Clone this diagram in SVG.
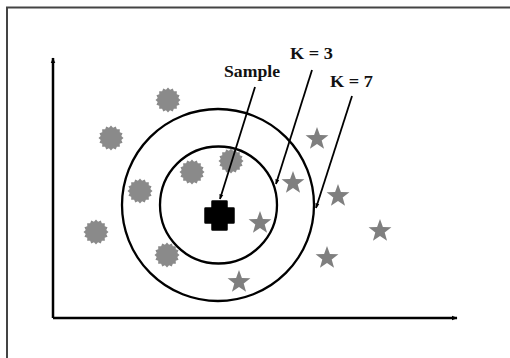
<svg xmlns="http://www.w3.org/2000/svg" width="510" height="358" viewBox="0 0 510 358">
<style>
.lbl{font-family:"Liberation Serif","Times New Roman",serif;font-weight:bold;font-size:17px;fill:#111}
.ring{fill:none;stroke:#000;stroke-width:2.3}
.ax{stroke:#000;stroke-width:2.5;fill:none}
.con{stroke:#000;stroke-width:1.8;fill:none}
.burst{fill:#8a8a8a}
.star{fill:#7f7f7f}
</style>
<defs>
<marker id="ah" viewBox="0 0 10 10" refX="9" refY="5" markerWidth="5" markerHeight="5" orient="auto" markerUnits="userSpaceOnUse">
<path d="M0,1 L10,5 L0,9 z" fill="#000"/>
</marker>
<marker id="axh" viewBox="0 0 10 10" refX="9" refY="5" markerWidth="6" markerHeight="6" orient="auto" markerUnits="userSpaceOnUse">
<path d="M0,1 L10,5 L0,9 z" fill="#000"/>
</marker>
<polygon id="b" points="12.5,0 10.3,2.05 11.55,4.78 8.73,5.83 8.84,8.84 5.83,8.73 4.78,11.55 2.05,10.3 0,12.5 -2.05,10.3 -4.78,11.55 -5.83,8.73 -8.84,8.84 -8.73,5.83 -11.55,4.78 -10.3,2.05 -12.5,0 -10.3,-2.05 -11.55,-4.78 -8.73,-5.83 -8.84,-8.84 -5.83,-8.73 -4.78,-11.55 -2.05,-10.3 0,-12.5 2.05,-10.3 4.78,-11.55 5.83,-8.73 8.84,-8.84 8.73,-5.83 11.55,-4.78 10.3,-2.05"/>
<polygon id="s" points="0,-12 2.9,-4 11.41,-3.71 4.7,1.55 7.05,9.71 0,4.9 -7.05,9.71 -4.7,1.55 -11.41,-3.71 -2.9,-4"/>
</defs>
<rect width="510" height="358" fill="#fff"/>
<path d="M7,358 V7.5 H510" fill="none" stroke="#444" stroke-width="2"/>
<g id="axes">
<path class="ax" d="M53,318 V58" marker-end="url(#axh)"/>
<path class="ax" d="M53,318 H457" marker-end="url(#axh)"/>
</g>
<g id="rings">
<circle class="ring" cx="218" cy="205" r="96"/>
<circle class="ring" cx="218.5" cy="205" r="58.5"/>
</g>
<g id="class-a">
<use href="#b" class="burst" x="168" y="100"/>
<use href="#b" class="burst" x="111" y="138"/>
<use href="#b" class="burst" x="192" y="172"/>
<use href="#b" class="burst" x="231" y="161"/>
<use href="#b" class="burst" x="140" y="191"/>
<use href="#b" class="burst" x="96" y="232"/>
<use href="#b" class="burst" x="167" y="255"/>
</g>
<g id="class-b">
<use href="#s" class="star" x="317" y="139"/>
<use href="#s" class="star" x="293" y="183"/>
<use href="#s" class="star" x="338" y="196"/>
<use href="#s" class="star" x="260" y="223"/>
<use href="#s" class="star" x="380" y="231"/>
<use href="#s" class="star" x="327" y="258"/>
<use href="#s" class="star" x="239" y="282"/>
</g>
<g id="sample">
<path d="M212.5,201.5 h14 v7 h7 v14 h-7 v7 h-14 v-7 h-7 v-14 h7 z" fill="#000" stroke="#000" stroke-width="2.5" stroke-linejoin="round"/>
</g>
<g id="connectors">
<line class="con" x1="255" y1="87" x2="220" y2="199" marker-end="url(#ah)"/>
<line class="con" x1="312" y1="70" x2="276" y2="184" marker-end="url(#ah)"/>
<line class="con" x1="352" y1="96" x2="316" y2="208" marker-end="url(#ah)"/>
</g>
<g id="labels">
<text class="lbl" x="224" y="77" textLength="56" lengthAdjust="spacingAndGlyphs">Sample</text>
<text class="lbl" x="290" y="59" textLength="43" lengthAdjust="spacingAndGlyphs">K = 3</text>
<text class="lbl" x="330" y="87" textLength="43" lengthAdjust="spacingAndGlyphs">K = 7</text>
</g>
</svg>
